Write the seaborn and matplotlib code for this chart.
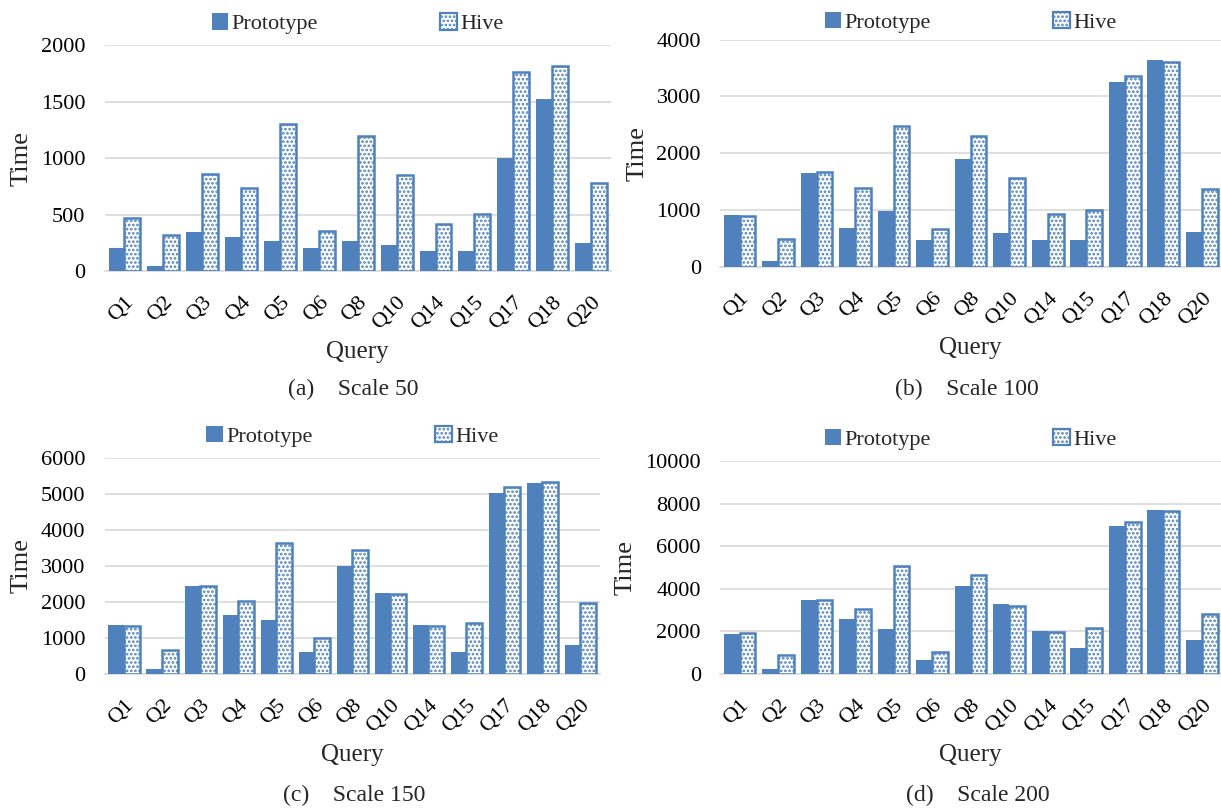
import numpy as np
import pandas as pd
import matplotlib
matplotlib.use('Agg')
import matplotlib.pyplot as plt
from matplotlib.patches import Patch
import seaborn as sns

# data
queries = ['Q1', 'Q2', 'Q3', 'Q4', 'Q5', 'Q6', 'Q8', 'Q10', 'Q14', 'Q15', 'Q17', 'Q18', 'Q20']

proto_50 = [200, 47, 348, 304, 262, 200, 262, 230, 180, 180, 1000, 1522, 250]
hive_50 = [466, 318, 864, 734, 1301, 354, 1195, 852, 416, 501, 1761, 1814, 779]

proto_100 = [916, 106, 1645, 687, 987, 476, 1897, 605, 476, 476, 3260, 3642, 623]
hive_100 = [905, 500, 1668, 1392, 2473, 664, 2302, 1557, 928, 1010, 3366, 3606, 1369]

proto_150 = [1359, 139, 2441, 1636, 1507, 601, 3005, 2237, 1359, 601, 5038, 5297, 804]
hive_150 = [1340, 675, 2450, 2034, 3642, 1008, 3448, 2209, 1340, 1424, 5205, 5325, 1978]

proto_200 = [1888, 250, 3494, 2558, 2106, 640, 4134, 3292, 1997, 1217, 6942, 7722, 1607]
hive_200 = [1919, 889, 3479, 3073, 5070, 1014, 4665, 3198, 1966, 2137, 7129, 7644, 2808]

captions = ['(a)    Scale 50', '(b)    Scale 100', '(c)    Scale 150', '(d)    Scale 200']
y_maxes = [2000, 4000, 6000, 10000]
y_steps = [500, 1000, 1000, 2000]

sns.set_style('white')
plt.rcParams['font.family'] = 'serif'
plt.rcParams['font.serif'] = ['Liberation Serif', 'DejaVu Serif']
plt.rcParams['hatch.linewidth'] = 1.3

blue = '#4F81BD'
grid_c = '#D9D9D9'

fig = plt.figure(figsize=(12.21, 8.09), dpi=100)

# axes boxes [left, bottom, width, height]
boxes = [
    [0.086, 0.665, 0.414, 0.279],
    [0.590, 0.670, 0.410, 0.281],
    [0.086, 0.167, 0.405, 0.267],
    [0.590, 0.167, 0.410, 0.263],
]
caption_xy = [(0.289, 0.518), (0.792, 0.518), (0.290, 0.017), (0.801, 0.017)]
legend_y = [1.0, 0.98, 1.0, 1.0]

all_data = [(proto_50, hive_50), (proto_100, hive_100), (proto_150, hive_150), (proto_200, hive_200)]

for i, (proto, hive) in enumerate(all_data):
    df = pd.DataFrame({
        'Query': queries * 2,
        'Time': proto + hive,
        'System': ['Prototype'] * len(queries) + ['Hive'] * len(queries),
    })
    ax = fig.add_axes(boxes[i])
    sns.barplot(data=df, x='Query', y='Time', hue='System', order=queries,
                hue_order=['Prototype', 'Hive'],
                palette={'Prototype': blue, 'Hive': 'white'}, saturation=1,
                width=0.82, gap=0, legend=False, ax=ax, zorder=3)

    for bar in ax.containers[0]:
        bar.set_edgecolor(blue)
        bar.set_linewidth(0)
    for bar in ax.containers[1]:
        bar.set_facecolor('white')
        bar.set_edgecolor(blue)
        bar.set_linewidth(1.8)
        bar.set_hatch('....')

    ax.set_ylim(0, y_maxes[i])
    ax.set_yticks(np.arange(0, y_maxes[i] + 1, y_steps[i]))
    ax.yaxis.grid(True, color=grid_c, lw=1.2, zorder=0)
    ax.set_axisbelow(True)
    ax.set_xlim(-0.5, len(queries) - 0.5)
    ax.set_xticks(range(len(queries)))
    ax.set_xticklabels(queries, rotation=45, ha='right', rotation_mode='anchor')
    ax.tick_params(axis='both', labelsize=16, length=0, colors='#000000')
    ax.tick_params(axis='x', pad=16)
    ax.tick_params(axis='y', pad=14)
    for side in ['top', 'right', 'left']:
        ax.spines[side].set_visible(False)
    ax.spines['bottom'].set_color(grid_c)
    ax.spines['bottom'].set_linewidth(1.2)

    ax.set_ylabel('Time', fontsize=19, labelpad=6)
    ax.set_xlabel('Query', fontsize=18, labelpad=5)

    handles = [Patch(facecolor=blue, edgecolor=blue, lw=0),
               Patch(facecolor='white', edgecolor=blue, hatch='....', lw=1.6)]
    ax.legend(handles, ['Prototype', 'Hive'], ncol=2, loc='lower center',
              bbox_to_anchor=(0.5, legend_y[i]), frameon=False, fontsize=16,
              handlelength=0.75, handleheight=0.75, handletextpad=0.15,
              columnspacing=5.5, borderaxespad=0.1)

    fig.text(caption_xy[i][0], caption_xy[i][1], captions[i], fontsize=17,
             ha='center', va='center')

fig.savefig('out.png', dpi=100)
